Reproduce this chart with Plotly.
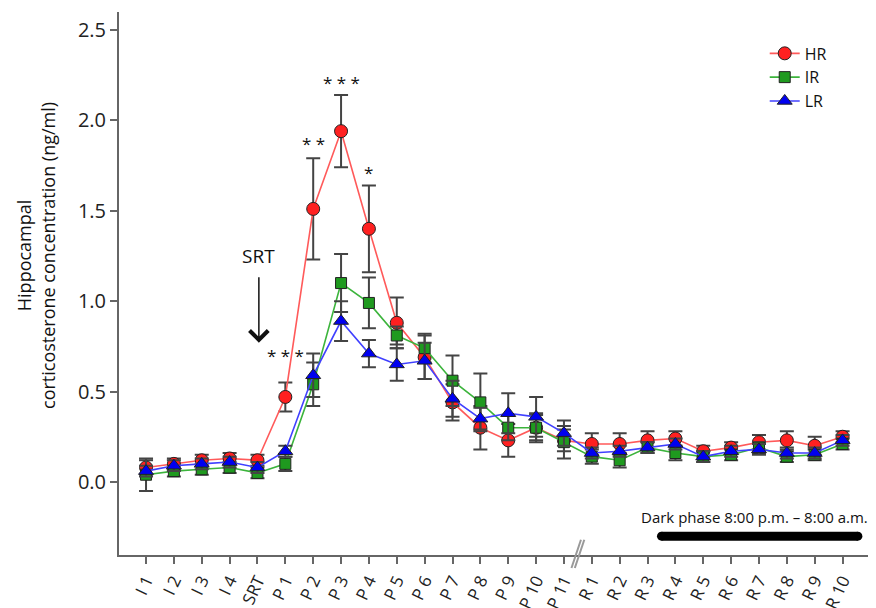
import plotly.graph_objects as go

categories = ["I 1", "I 2", "I 3", "I 4", "SRT",
              "P 1", "P 2", "P 3", "P 4", "P 5", "P 6", "P 7", "P 8", "P 9", "P 10", "P 11",
              "R 1", "R 2", "R 3", "R 4", "R 5", "R 6", "R 7", "R 8", "R 9", "R 10"]

hr = [0.08, 0.10, 0.12, 0.13, 0.12, 0.47, 1.51, 1.94, 1.40, 0.88, 0.69, 0.44, 0.30, 0.23, 0.30, 0.23,
      0.21, 0.21, 0.23, 0.24, 0.17, 0.19, 0.22, 0.23, 0.20, 0.25]
hr_err = [0.04, 0.03, 0.03, 0.03, 0.03, 0.08, 0.28, 0.20, 0.24, 0.14, 0.12, 0.10, 0.12, 0.09, 0.07, 0.06,
          0.06, 0.06, 0.05, 0.04, 0.03, 0.03, 0.04, 0.05, 0.05, 0.03]

ir = [0.04, 0.06, 0.07, 0.08, 0.05, 0.10, 0.54, 1.10, 0.99, 0.81, 0.74, 0.56, 0.44, 0.30, 0.30, 0.22,
      0.14, 0.12, 0.19, 0.16, 0.14, 0.15, 0.19, 0.14, 0.15, 0.21]
ir_err = [0.09, 0.03, 0.03, 0.03, 0.03, 0.04, 0.12, 0.16, 0.14, 0.05, 0.08, 0.14, 0.16, 0.07, 0.08, 0.09,
          0.04, 0.04, 0.03, 0.04, 0.03, 0.03, 0.03, 0.03, 0.03, 0.03]

lr = [0.06, 0.09, 0.10, 0.11, 0.08, 0.17, 0.59, 0.89, 0.71, 0.65, 0.67, 0.46, 0.35, 0.38, 0.36, 0.27,
      0.16, 0.17, 0.19, 0.21, 0.14, 0.17, 0.18, 0.16, 0.16, 0.23]
lr_err = [0.03, 0.03, 0.03, 0.03, 0.03, 0.03, 0.12, 0.11, 0.075, 0.09, 0.10, 0.10, 0.06, 0.11, 0.11, 0.07,
          0.03, 0.03, 0.03, 0.03, 0.03, 0.03, 0.03, 0.03, 0.03, 0.03]

y_ticks = [0.0, 0.5, 1.0, 1.5, 2.0, 2.5]

# significance marks: (category, label, y)
sig_marks = [("P 1", "* * *", 0.70), ("P 2", "* *", 1.87), ("P 3", "* * *", 2.21), ("P 4", "*", 1.71)]

FONT = "Open Sans"
xi = list(range(len(categories)))
idx = {c: i for i, c in enumerate(categories)}

fig = go.Figure()

series = [
    ("HR", hr, hr_err, "#ff2020", "#ff5a5a", "circle", 13),
    ("IR", ir, ir_err, "#1f9a1f", "#3cb43c", "square", 11),
    ("LR", lr, lr_err, "#0000f0", "#4040ff", "triangle-up", 13),
]
for name, vals, errs, fill, linec, sym, size in series:
    fig.add_trace(go.Scatter(
        x=xi, y=vals, name=name, mode="lines+markers",
        line=dict(color=linec, width=1.6),
        marker=dict(symbol=sym, size=size, color=fill, line=dict(color="#222", width=1)),
        error_y=dict(type="data", array=errs, visible=True, color="#444", thickness=2, width=7),
    ))

# dark phase bar
dark_x = [idx["R 4"] - 0.5, idx["R 10"] + 0.55]
fig.add_trace(go.Scatter(
    x=dark_x, y=[-0.30, -0.30], mode="lines+markers", showlegend=False, hoverinfo="skip",
    line=dict(color="black", width=9), marker=dict(color="black", size=9),
    cliponaxis=False,
))

annotations = []
for cat, lab, yv in sig_marks:
    annotations.append(dict(x=idx[cat], y=yv, text=lab, showarrow=False,
                            font=dict(family=FONT, size=17, color="#111"), xref="x", yref="y"))

annotations.append(dict(x=sum(dark_x) / 2 - 0.2, y=-0.195, text="Dark phase 8:00 p.m. \u2013 8:00 a.m.",
                        showarrow=False, font=dict(family=FONT, size=15, color="#111"), xref="x", yref="y"))
# SRT label and arrow
annotations.append(dict(x=idx["SRT"] + 0.05, y=1.25, text="SRT", showarrow=False,
                        font=dict(family=FONT, size=19, color="#111"), xref="x", yref="y"))
annotations.append(dict(x=idx["SRT"] + 0.05, y=0.77, ax=idx["SRT"] + 0.05, ay=1.14, axref="x", ayref="y",
                        xref="x", yref="y", text="", showarrow=True, arrowhead=4, arrowsize=2.4,
                        arrowwidth=1.5, arrowcolor="#111"))
# y axis title
annotations.append(dict(x=-0.11, y=0.552, xref="paper", yref="paper", textangle=-90,
                        text="Hippocampal<br>corticosterone concentration (ng/ml)", showarrow=False,
                        font=dict(family=FONT, size=18, color="#111"), xanchor="center", yanchor="middle"))

shapes = []
brk = (idx["P 11"] + idx["R 1"]) / 2
for off in (-0.06, 0.06):
    shapes.append(dict(type="line", xref="x", yref="paper",
                       x0=brk + off - 0.17, y0=-0.024, x1=brk + off + 0.17, y1=0.028,
                       line=dict(color="#999", width=2)))

# page has an 8px body margin: figure is 868x600 placed at (8, 8)
fig.update_layout(
    width=868, height=600,
    margin=dict(l=111, r=0, t=4, b=53),
    paper_bgcolor="white", plot_bgcolor="white",
    font=dict(family=FONT, color="#222"),
    showlegend=True,
    legend=dict(x=0.853, y=0.955, xanchor="left", yanchor="top", bgcolor="rgba(0,0,0,0)",
                font=dict(family=FONT, size=16, color="#111"), tracegroupgap=0, itemwidth=30),
    annotations=annotations,
    shapes=shapes,
)
fig.update_xaxes(range=[-0.97, 26.2], tickvals=xi, ticktext=categories, tickangle=-65,
                 showline=True, linecolor="#666", linewidth=2, ticks="outside", ticklen=7,
                 tickwidth=2, tickcolor="#666", showgrid=False, zeroline=False, automargin=False,
                 tickfont=dict(family=FONT, size=17, color="#222"))
fig.update_yaxes(range=[-0.404, 2.599], tickvals=y_ticks, tickformat=".1f",
                 showline=True, linecolor="#666", linewidth=2, ticks="outside", ticklen=7,
                 tickwidth=2, tickcolor="#666", showgrid=False, zeroline=False, automargin=False,
                 tickfont=dict(family=FONT, size=20, color="#222"))

fig.write_html("out.html")
